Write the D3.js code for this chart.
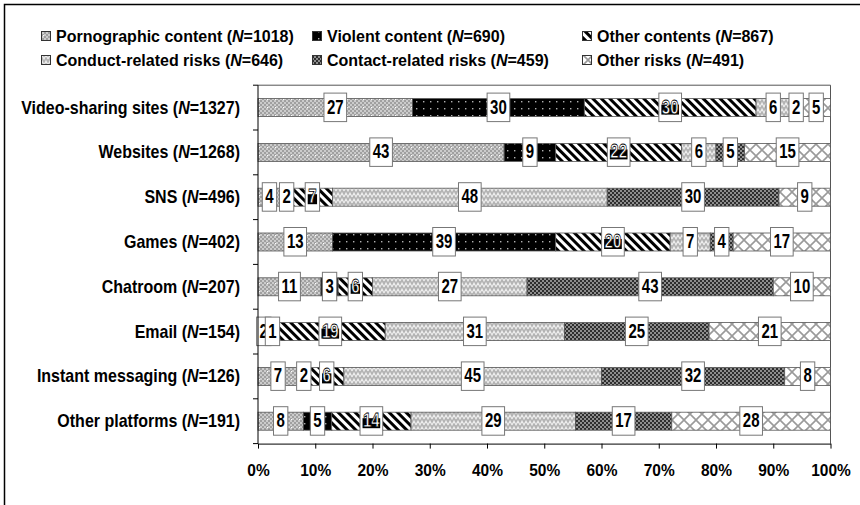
<!DOCTYPE html>
<html><head><meta charset="utf-8">
<script src="https://cdn.jsdelivr.net/npm/d3@7"></script>
<style>
body{margin:0;background:#fff}
text{font-family:"Liberation Sans",Arial,Helvetica,sans-serif;font-weight:bold;fill:#000}
</style>
</head><body>
<svg id="c" width="860" height="505"></svg>
<script>
// ---- data ----
const platforms = ["Video-sharing sites", "Websites", "SNS", "Games", "Chatroom", "Email", "Instant messaging", "Other platforms"];
const platformN = [1327, 1268, 496, 402, 207, 154, 126, 191];
const seriesNames = ["Pornographic content", "Violent content", "Other contents", "Conduct-related risks", "Contact-related risks", "Other risks"];
const seriesN = [1018, 690, 867, 646, 459, 491];
const pornographic = [27, 43, 4, 13, 11, 2, 7, 8];
const violent = [30, 9, 2, 39, 3, 1, 2, 5];
const otherContents = [30, 22, 7, 20, 6, 19, 6, 14];
const conductRisks = [6, 6, 48, 7, 27, 31, 45, 29];
const contactRisks = [2, 5, 30, 4, 43, 25, 32, 17];
const otherRisks = [5, 15, 9, 17, 10, 21, 8, 28];
const xTicks = [0, 0.1, 0.2, 0.3, 0.4, 0.5, 0.6, 0.7, 0.8, 0.9, 1.0];

const seriesValues = [pornographic, violent, otherContents, conductRisks, contactRisks, otherRisks];
const keys = seriesNames.map((d, i) => "s" + i);
const rows = platforms.map((p, j) => {
  const r = {platform: p};
  keys.forEach((k, i) => r[k] = seriesValues[i][j]);
  return r;
});

const svg = d3.select("#c");
const defs = svg.append("defs");

// ---- patterns ----
function pattern(id, w, h, tf) {
  const p = defs.append("pattern").attr("id", id).attr("patternUnits", "userSpaceOnUse")
    .attr("width", w).attr("height", h);
  if (tf) p.attr("patternTransform", tf);
  return p;
}
let p;
// 0 pornographic: light grey fine checker with white dots
p = pattern("p0", 8, 8);
p.append("rect").attr("width", 8).attr("height", 8).attr("fill", "#cccccc");
[[0,0],[4,0],[2,2],[6,2],[0,4],[4,4],[2,6],[6,6]].forEach(([a,b]) =>
  p.append("rect").attr("x", a).attr("y", b).attr("width", 2).attr("height", 2).attr("fill", "#a0a0a0"));
p.append("rect").attr("x", 3).attr("y", 3).attr("width", 1).attr("height", 1).attr("fill", "#fff");
// 1 violent: black with grey dots
p = pattern("p1", 7, 7);
p.append("rect").attr("width", 7).attr("height", 7).attr("fill", "#000");
p.append("rect").attr("x", 3).attr("y", 3).attr("width", 1.4).attr("height", 1.4).attr("fill", "#b0b0b0");
// 2 other contents: wide diagonal stripes
p = pattern("p2", 6, 6, "rotate(-45)");
p.append("rect").attr("width", 6).attr("height", 6).attr("fill", "#fff");
p.append("rect").attr("width", 3).attr("height", 6).attr("fill", "#000");
// 3 conduct: light grey zigzag weave
p = pattern("p3", 8, 6);
p.append("rect").attr("width", 8).attr("height", 6).attr("fill", "#b4b4b4");
p.append("path").attr("d", "M0,5 L2,1 L4,5 L6,1 L8,5").attr("fill", "none").attr("stroke", "#eeeeee").attr("stroke-width", 1.1);
// 4 contact: dark grey checker
p = pattern("p4", 4, 4);
p.append("rect").attr("width", 4).attr("height", 4).attr("fill", "#8e8e8e");
p.append("rect").attr("x", 0).attr("y", 0).attr("width", 2).attr("height", 2).attr("fill", "#2e2e2e");
p.append("rect").attr("x", 2).attr("y", 2).attr("width", 2).attr("height", 2).attr("fill", "#2e2e2e");
// 5 other risks: white with grey diamond lattice
p = pattern("p5", 12, 12);
p.append("rect").attr("width", 12).attr("height", 12).attr("fill", "#fff");
p.append("path").attr("d", "M-1,-1 L13,13 M13,-1 L-1,13").attr("stroke", "#9a9a9a").attr("stroke-width", 1.6);

// ---- frame ----
svg.append("rect").attr("x", 4.5).attr("y", 4.5).attr("width", 900).attr("height", 600)
  .attr("fill", "none").attr("stroke", "#000").attr("stroke-width", 1.5);

// ---- scales ----
const x = d3.scaleLinear().domain([0, 1]).range([258, 830.5]);
const y = d3.scaleBand().domain(platforms).range([85.2, 443.6]).padding(0);
const barH = 18;

// plot border (top and right)
svg.append("path").attr("d", `M${x(0)},${y.range()[0]}H${x(1)}V${y.range()[1]}`)
  .attr("fill", "none").attr("stroke", "#555").attr("stroke-width", 1);

// ---- stack ----
const stack = d3.stack().keys(keys).offset(d3.stackOffsetExpand);
const layers = stack(rows);

const gBars = svg.append("g");
layers.forEach((layer, i) => {
  gBars.append("g").selectAll("rect").data(layer).join("rect")
    .attr("x", d => x(d[0]))
    .attr("width", d => x(d[1]) - x(d[0]))
    .attr("y", d => y(d.data.platform) + (y.bandwidth() - barH) / 2)
    .attr("height", barH)
    .attr("fill", `url(#p${i})`)
    .attr("stroke", "#555").attr("stroke-width", 0.8);
});

// ---- data labels ----
const gLab = svg.append("g");
layers.forEach((layer, i) => {
  layer.forEach(d => {
    const cx = (x(d[0]) + x(d[1])) / 2;
    const cy = y(d.data.platform) + y.bandwidth() / 2;
    const g = gLab.append("g");
    const box = g.append("rect").attr("fill", "#fff").attr("stroke", "#777").attr("stroke-width", 1);
    const blk = g.append("rect").attr("fill", "#000");
    const t = g.append("text").attr("text-anchor", "middle").style("font-size", "15px")
      .attr("transform", `translate(${cx},${cy + 6}) scale(1,1.3)`)
      .text(d.data[layer.key]);
    const w = t.node().getComputedTextLength();
    box.attr("x", cx - w / 2 - 3).attr("y", cy - 14.5).attr("width", w + 6).attr("height", 28.5);
    if (i === 2) {
      blk.attr("x", cx - w / 2 - 0.5).attr("y", cy - 3).attr("width", w + 1).attr("height", 10);
      t.style("fill", "#fff").attr("stroke", "#000").attr("stroke-width", 0.6);
    } else blk.remove();
  });
});

// ---- left axis ----
const gl = svg.append("g");
gl.append("line").attr("x1", x(0)).attr("x2", x(0)).attr("y1", y.range()[0]).attr("y2", y.range()[1]).attr("stroke", "#000");
const bounds = platforms.map(p => y(p)).concat([y.range()[1]]);
gl.selectAll("line.t").data(bounds).join("line").attr("class", "t")
  .attr("x1", x(0) - 5).attr("x2", x(0)).attr("y1", d => d).attr("y2", d => d).attr("stroke", "#000");
platforms.forEach((p, j) => {
  const cy = y(p) + y.bandwidth() / 2;
  const t = gl.append("text").attr("text-anchor", "end").style("font-size", "16px")
    .attr("transform", `translate(240,${cy + 6}) scale(1,1.15)`);
  t.append("tspan").text(p + " (");
  t.append("tspan").style("font-style", "italic").text("N");
  t.append("tspan").text("=" + platformN[j] + ")");
});

// ---- bottom axis ----
const ax = d3.axisBottom(x).tickValues(xTicks).tickFormat(d3.format(".0%")).tickSize(5).tickSizeOuter(0);
const gb = svg.append("g").attr("transform", `translate(0,${y.range()[1]})`).call(ax);
gb.select(".domain").attr("stroke", "#000");
gb.selectAll(".tick line").attr("stroke", "#000");
gb.selectAll(".tick text").attr("y", 0).attr("dy", null)
  .attr("transform", "translate(0,32) scale(1,1.12)")
  .style("font-size", "15.5px").style("font-family", "'Liberation Sans',Arial,sans-serif").style("font-weight", "bold").attr("fill", "#000");

// ---- legend ----
const legX = [41, 312, 582];
const legY = [42, 66];
const gLeg = svg.append("g");
seriesNames.forEach((s, i) => {
  const lx = legX[i % 3], ly = legY[Math.floor(i / 3)];
  gLeg.append("rect").attr("x", lx + 0.5).attr("y", ly - 10.5).attr("width", 9).attr("height", 9)
    .attr("fill", `url(#p${i})`).attr("stroke", "#333").attr("stroke-width", 1);
  const t = gLeg.append("text").attr("x", lx + 15).attr("y", ly).style("font-size", "16px");
  t.append("tspan").text(s + " (");
  t.append("tspan").style("font-style", "italic").text("N");
  t.append("tspan").text("=" + seriesN[i] + ")");
});
</script>
</body></html>
